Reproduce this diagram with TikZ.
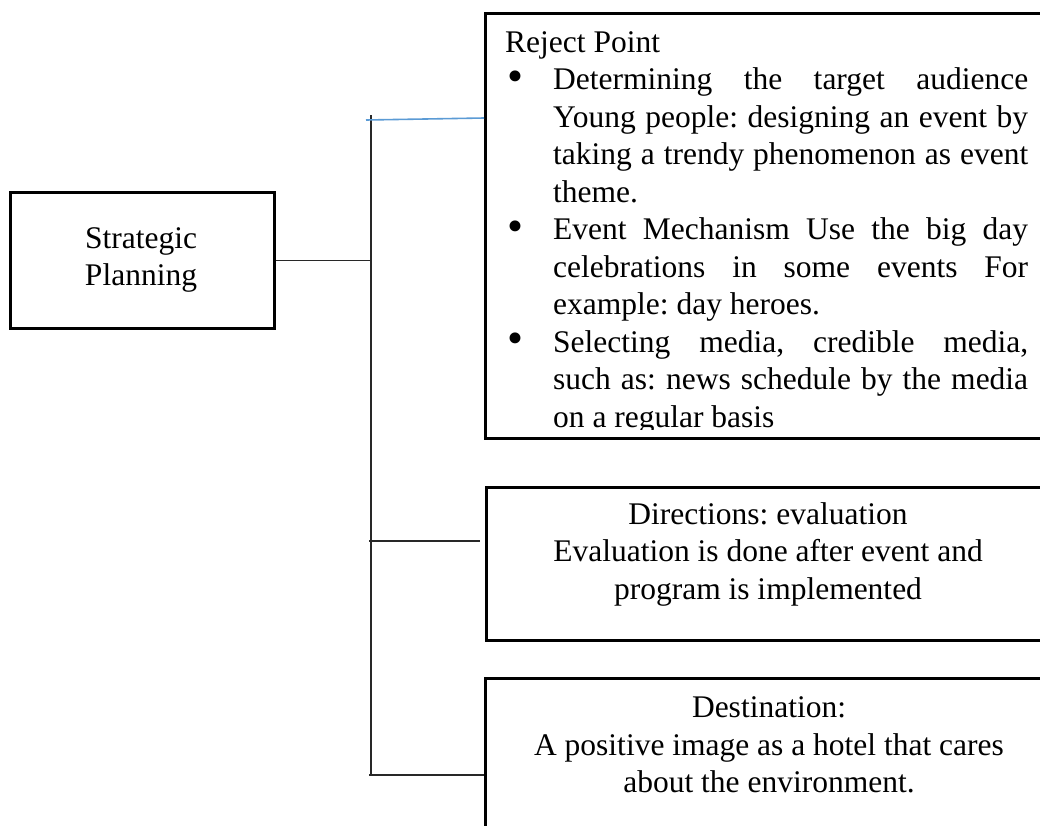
\documentclass[tikz,border=0pt]{standalone}
\usepackage{fontspec}
\setmainfont{Liberation Serif}
\definecolor{wordblue}{RGB}{91,155,213}
\definecolor{linegrey}{RGB}{40,40,40}
\newcommand{\bigdot}{\noindent\llap{\makebox[46pt][l]{\raisebox{-1.5pt}{\scalebox{1.45}{\textbullet}}}}}
\begin{document}
\begin{tikzpicture}[x=1pt,y=-1pt,
  box/.style={draw=black,line width=3pt,inner sep=0pt,anchor=north west},
  conn/.style={draw=linegrey,line width=1.4pt},
  blueconn/.style={draw=wordblue,line width=1.6pt},
  txt/.style={inner sep=0pt,font=\fontsize{31.5}{37.5}\selectfont\frenchspacing}]
\clip (0,0) rectangle (1040,825);
\fill[white] (0,0) rectangle (1040,825);
% boxes
\node[box,minimum width=264pt,minimum height=136pt] (sp) at (9,191) {};
\node[box,minimum width=567pt,minimum height=425pt] (reject) at (484,12) {};
\node[box,minimum width=566pt,minimum height=153pt] (dir) at (485,486) {};
\node[box,minimum width=567pt,minimum height=170pt] (dest) at (484,677) {};
% texts
\node[txt,align=center] (sptext) at (141,260) {Strategic\\Planning};
\begin{scope}
\clip (484,12) rectangle (1040,429);
\node[txt,anchor=base west] (rejecttext) at (505,52) {\parbox[t]{523pt}{%
\hyphenpenalty=10000 \exhyphenpenalty=10000
Reject Point\par
\setlength{\leftskip}{48pt}%
\bigdot Determining the target audience\linebreak Young people: designing an event by\linebreak taking a trendy phenomenon as event\linebreak theme.\par
\bigdot Event Mechanism Use the big day\linebreak celebrations in some events For\linebreak example: day heroes.\par
\bigdot Selecting media, credible media,\linebreak such as: news schedule by the media\linebreak on a regular basis\par}};
\end{scope}
\node[txt,align=center] (dirtext) at (768,554) {Directions: evaluation\\Evaluation is done after event and\\program is implemented};
\node[txt,align=center] (desttext) at (769,745) {Destination:\\A positive image as a hotel that cares\\about the environment.};
% connectors
\coordinate (trunkTop) at (371,115);
\coordinate (trunkBot) at (371,775);
\coordinate (blueStart) at (366,120);
\coordinate (midStart) at (369,541);
\coordinate (midEnd) at (480,541);
\coordinate (botStart) at (369,775);
\draw[conn] (trunkTop) -- (trunkBot);
\draw[conn] (sp.east) -- (sp.east -| trunkTop);
\draw[blueconn] (blueStart) -- (reject.west |- 0,118);
\draw[conn] (midStart) -- (midEnd);
\draw[conn] (botStart) -- (botStart -| dest.west);
\end{tikzpicture}
\end{document}
